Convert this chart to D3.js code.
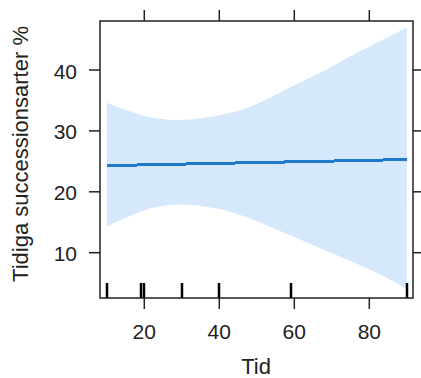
<!DOCTYPE html>
<html lang="en">
<head>
    <meta charset="UTF-8">
    <title>Tidiga successionsarter</title>
    <script src="https://d3js.org/d3.v7.min.js"></script>
    <style>
        body { margin: 0; background: #fff; font-family: "Liberation Sans", Arial, sans-serif; }
        svg text { fill: #222; }
    </style>
</head>
<body>
    <div id="chart"></div>
    <script>
        // Fitted effect and confidence band
        var upperX = [10, 20, 29, 37.5, 45, 52, 60, 68, 76, 84, 90];
        var upper = [34.6, 32.5, 31.8, 32.3, 33.3, 35.0, 37.5, 39.9, 42.6, 45.1, 47.0];
        var lowerX = [10, 19.3, 29, 42.3, 55.7, 69, 82.3, 90];
        var lower = [14.3, 16.8, 17.9, 16.8, 13.7, 10.2, 6.6, 4.0];
        var fitX = [10, 90];
        var fit = [24.3, 25.3];
        var rug = [10, 19, 20, 30, 40, 59, 90];
        var xTicks = [20, 40, 60, 80];
        var yTicks = [10, 20, 30, 40];

        var W = 421, H = 378;
        var svg = d3.select("#chart").append("svg")
            .attr("width", W).attr("height", H);

        var x = d3.scaleLinear().domain([8.19, 91.65]).range([100, 413]);
        var y = d3.scaleLinear().domain([2.56, 48.05]).range([298, 21]);

        // sample a smooth curve through the read points, so upper and lower
        // edges can be joined into one closed band
        function sample(xs, ys) {
            var p = document.createElementNS("http://www.w3.org/2000/svg", "path");
            p.setAttribute("d", d3.line().curve(d3.curveNatural)(
                xs.map(function (d, i) { return [x(d), y(ys[i])]; })));
            svg.node().appendChild(p);
            var pts = [], L = p.getTotalLength();
            for (var s = 0; s <= L; s += 1) {
                var q = p.getPointAtLength(s);
                pts.push([q.x, q.y]);
            }
            var e = p.getPointAtLength(L);
            pts.push([e.x, e.y]);
            p.remove();
            return pts;
        }
        var upPts = sample(upperX, upper);
        var loPts = sample(lowerX, lower);

        svg.append("path")
            .attr("d", "M" + upPts.concat(loPts.reverse()).map(function (p) { return p.join(","); }).join("L") + "Z")
            .attr("fill", "#d6e8fb");

        // fitted line
        svg.append("path")
            .attr("d", d3.line()(fitX.map(function (d, i) { return [x(d), y(fit[i])]; })))
            .attr("fill", "none")
            .attr("stroke", "#1f7acc")
            .attr("stroke-width", 3)
            .attr("shape-rendering", "crispEdges");

        // rug
        svg.selectAll(".rug").data(rug).enter().append("line")
            .attr("x1", function (d) { return Math.round(x(d)); })
            .attr("x2", function (d) { return Math.round(x(d)); })
            .attr("y1", 283).attr("y2", 298)
            .attr("stroke", "#000").attr("stroke-width", 2.5);

        // box
        svg.append("rect")
            .attr("x", 100).attr("y", 21).attr("width", 313).attr("height", 277)
            .attr("fill", "none").attr("stroke", "#222").attr("stroke-width", 1.5);

        // ticks on all four sides (lattice style)
        var tk = svg.append("g").attr("stroke", "#222").attr("stroke-width", 1.5);
        xTicks.forEach(function (t) {
            tk.append("line").attr("x1", x(t)).attr("x2", x(t)).attr("y1", 298).attr("y2", 309);
            tk.append("line").attr("x1", x(t)).attr("x2", x(t)).attr("y1", 21).attr("y2", 10);
        });
        yTicks.forEach(function (t) {
            tk.append("line").attr("x1", 100).attr("x2", 89).attr("y1", y(t)).attr("y2", y(t));
            tk.append("line").attr("x1", 413).attr("x2", 424).attr("y1", y(t)).attr("y2", y(t));
        });

        // tick labels
        svg.selectAll(".xl").data(xTicks).enter().append("text")
            .attr("x", function (d) { return x(d); })
            .attr("y", 339)
            .attr("text-anchor", "middle")
            .style("font-size", "21px")
            .text(function (d) { return d; });

        svg.selectAll(".yl").data(yTicks).enter().append("text")
            .attr("x", 77)
            .attr("y", function (d) { return y(d) + 1; })
            .attr("dy", "0.36em")
            .attr("text-anchor", "end")
            .style("font-size", "21px")
            .text(function (d) { return d; });

        // axis titles
        svg.append("text")
            .attr("x", 256).attr("y", 374)
            .attr("text-anchor", "middle")
            .style("font-size", "22px")
            .text("Tid");

        svg.append("text")
            .attr("transform", "translate(28,154) rotate(-90)")
            .attr("text-anchor", "middle")
            .style("font-size", "22px")
            .text("Tidiga successionsarter %");
    </script>
</body>
</html>
